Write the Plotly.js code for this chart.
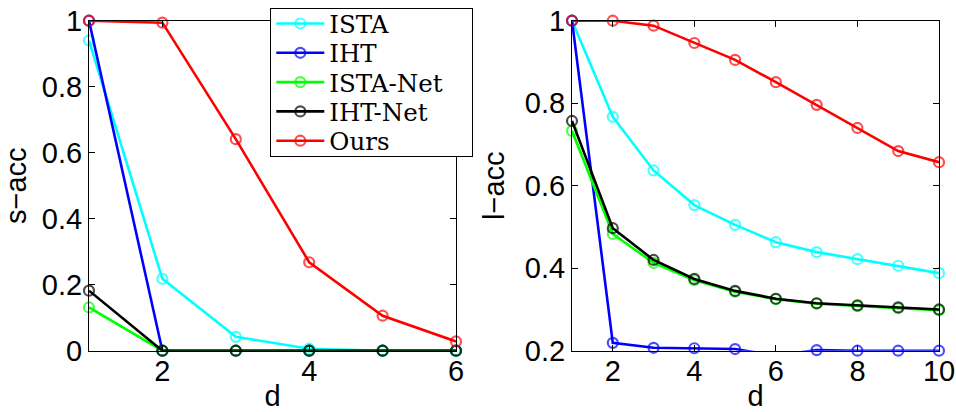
<!DOCTYPE html>
<html>
<head>
<meta charset="utf-8">
<script src="https://cdn.plot.ly/plotly-3.0.1.min.js"></script>
<style>html,body{margin:0;padding:0;background:#fff;}#chart{width:956px;height:412px;}</style>
</head>
<body>
<div id="chart"></div>
<script>
// Left panel: s-acc vs d
const dLeft = [1, 2, 3, 4, 5, 6];
const sIsta    = [0.94, 0.218, 0.042, 0.006, 0, 0];
const sIht     = [1.0, 0, 0, 0, 0, 0];
const sIstaNet = [0.131, 0, 0, 0, 0, 0];
const sIhtNet  = [0.182, 0, 0, 0, 0, 0];
const sOurs    = [1.0, 0.994, 0.641, 0.268, 0.106, 0.028];

// Right panel: l-acc vs d
const dRight = [1, 2, 3, 4, 5, 6, 7, 8, 9, 10];
const lIsta    = [1.0, 0.767, 0.637, 0.553, 0.505, 0.463, 0.439, 0.422, 0.406, 0.388];
const lIht     = [1.0, 0.219, 0.207, 0.206, 0.204, 0.188, 0.2015, 0.2, 0.2, 0.2];
const lIstaNet = [0.733, 0.483, 0.413, 0.371, 0.343, 0.325, 0.314, 0.308, 0.303, 0.298];
const lIhtNet  = [0.757, 0.497, 0.420, 0.374, 0.345, 0.326, 0.315, 0.310, 0.305, 0.300];
const lOurs    = [1.0, 1.0, 0.988, 0.946, 0.905, 0.851, 0.796, 0.740, 0.684, 0.657];

const names  = ['ISTA', 'IHT', 'ISTA-Net', 'IHT-Net', 'Ours'];
const colors = ['#00ffff', '#0000ff', '#00ff00', '#000000', '#ff0000'];
const leftSeries  = [sIsta, sIht, sIstaNet, sIhtNet, sOurs];
const rightSeries = [lIsta, lIht, lIstaNet, lIhtNet, lOurs];
const leftRange  = [0, 1];
const rightRange = [0.2, 1];

const traces = [];
function mk(x, y, i, xa, ya, show, yr) {
  // points outside the axis range get no marker (as in the original figure)
  const sizes = y.map(v => (v < yr[0] - 1e-9 || v > yr[1] + 1e-9) ? 0 : 10);
  return {
    x: x, y: y, xaxis: xa, yaxis: ya, name: names[i],
    type: 'scatter', mode: 'lines+markers', showlegend: show,
    line: {color: colors[i], width: 2.6},
    marker: {symbol: 'circle-open', size: sizes, color: colors[i], line: {width: 2.2, color: colors[i]}},
    cliponaxis: false
  };
}
leftSeries.forEach((s, i) => traces.push(mk(dLeft, s, i, 'x', 'y', true, leftRange)));
rightSeries.forEach((s, i) => traces.push(mk(dRight, s, i, 'x2', 'y2', false, rightRange)));

const tickFont = {family: 'Liberation Sans, Arial, sans-serif', size: 29, color: '#000'};
const axBase = {
  showline: true, linecolor: '#000', linewidth: 1, mirror: 'ticks',
  ticks: 'inside', ticklen: 6, tickcolor: '#000', tickwidth: 1,
  showgrid: false, zeroline: false, tickfont: tickFont, automargin: false
};
const yDom = [(412 - 350.7) / 412, (412 - 20.7) / 412];

const layout = {
  width: 956, height: 412,
  margin: {l: 0, r: 0, t: 0, b: 0},
  paper_bgcolor: '#fff', plot_bgcolor: '#fff',
  font: {family: 'Liberation Sans, Arial, sans-serif', color: '#000'},
  xaxis: Object.assign({}, axBase, {
    domain: [89 / 956, 456 / 956], range: [1, 6], tickvals: [2, 4, 6], ticklabelstandoff: -6,
    title: {text: 'd', font: {size: 29}}
  }),
  yaxis: Object.assign({}, axBase, {
    domain: yDom, range: leftRange, tickvals: [0, 0.2, 0.4, 0.6, 0.8, 1],
    title: {text: 's\u2212acc', font: {size: 29}}
  }),
  xaxis2: Object.assign({}, axBase, {
    domain: [572 / 956, 939 / 956], range: [1, 10], tickvals: [2, 4, 6, 8, 10], anchor: 'y2', ticklabelstandoff: -6,
    title: {text: 'd', font: {size: 29}}
  }),
  yaxis2: Object.assign({}, axBase, {
    domain: yDom, range: rightRange, tickvals: [0.2, 0.4, 0.6, 0.8, 1], anchor: 'x2',
    title: {text: 'l\u2212acc', font: {size: 29}}
  }),
  legend: {
    x: 270 / 956, y: (412 - 8) / 412, xanchor: 'left', yanchor: 'top',
    bgcolor: '#fff', bordercolor: '#000', borderwidth: 1.3,
    font: {family: 'DejaVu Serif, Liberation Serif, serif', size: 24.5, color: '#000'},
    itemwidth: 48, tracegroupgap: 0
  },
  showlegend: true
};

const gd = document.getElementById('chart');
Plotly.newPlot(gd, traces, layout, {staticPlot: true, displayModeBar: false}).then(() => {
  // tighten legend row spacing to match the original compact legend box
  const leg = gd.querySelector('.legend');
  if (leg) {
    const items = leg.querySelectorAll('.traces');
    const gap = 29.3, top = 15.5;
    let x0 = 0;
    const m = /translate\(([-\d.]+)[ ,]+([-\d.]+)\)/.exec(items[0].getAttribute('transform') || '');
    if (m) x0 = parseFloat(m[1]);
    items.forEach((el, i) => el.setAttribute('transform', 'translate(' + x0 + ',' + (top + i * gap) + ')'));
    const h = top * 2 + (items.length - 1) * gap;
    const w = 202;
    const bg = leg.querySelector('rect.bg');
    if (bg) { bg.setAttribute('height', h); bg.setAttribute('width', w); }
    document.querySelectorAll('clipPath[id^="legend"] rect').forEach(r => { r.setAttribute('height', h); r.setAttribute('width', w); });
  }
});
</script>
</body>
</html>
